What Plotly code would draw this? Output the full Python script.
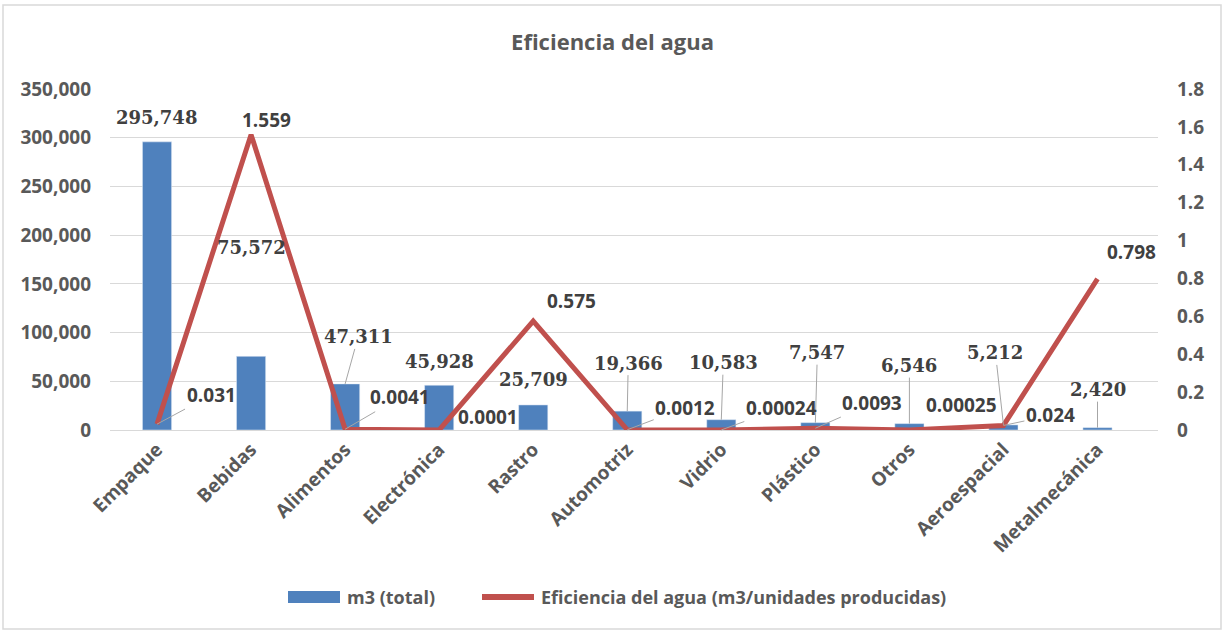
import plotly.graph_objects as go

# Sectors and their water figures
categories = ["Empaque", "Bebidas", "Alimentos", "Electrónica", "Rastro", "Automotriz",
              "Vidrio", "Plástico", "Otros", "Aeroespacial", "Metalmecánica"]
m3_total = [295748, 75572, 47311, 45928, 25709, 19366, 10583, 7547, 6546, 5212, 2420]
eficiencia = [0.031, 1.559, 0.0041, 0.0001, 0.575, 0.0012, 0.00024, 0.0093, 0.00025, 0.024, 0.798]
eficiencia_text = ["0.031", "1.559", "0.0041", "0.0001", "0.575", "0.0012", "0.00024",
                   "0.0093", "0.00025", "0.024", "0.798"]
bar_name = "m3 (total)"
line_name = "Eficiencia del agua (m3/unidades producidas)"

# Label placement (pixel offsets from the mark, and whether a leader line is drawn)
bar_off = [(-1, -24, False), (0, -109, False), (13, -47, True), (0, -24, False),
           (0, -25, False), (1, -48, True), (2, -57, True), (2, -70, True),
           (0, -58, True), (-8, -72, True), (0, -38, True)]
line_off = [(54, -29, True), (15, -15, False), (55, -32, True), (49, -13, False),
            (38, -20, False), (58, -22, True), (60, -22, True), (57, -25, True),
            (52, -25, False), (47, -10, True), (34, -27, False)]

BLUE = "#4F81BD"
RED = "#C0504D"
TXT = "#595959"
LBL = "#404040"
GRID = "#D9D9D9"
SANS = "Open Sans"

# Plot-area geometry in pixels (used to place the frame and the legend keys)
W, H = 1225, 632
L, R, T, B = 110, 1158, 89, 430


def px(x):
    return (x - L) / (R - L)


def py(y):
    return (B - y) / (B - T)


fig = go.Figure()
fig.add_trace(go.Bar(x=categories, y=m3_total, name=bar_name, marker_color=BLUE,
                     width=0.31, yaxis="y", showlegend=False))
fig.add_trace(go.Scatter(x=categories, y=eficiencia, name=line_name, mode="lines",
                         line=dict(color=RED, width=5), yaxis="y2", showlegend=False))

annotations = []
for cat, val, (ax, ay, lead) in zip(categories, m3_total, bar_off):
    annotations.append(dict(
        x=cat, y=val, xref="x", yref="y", text=f"{val:,}",
        showarrow=True, ax=ax, ay=ay, arrowhead=0, arrowwidth=1,
        arrowcolor="#A6A6A6" if lead else "rgba(0,0,0,0)",
        font=dict(family="DejaVu Serif", size=18, color=LBL, weight="bold"),
    ))
for cat, val, txt, (ax, ay, lead) in zip(categories, eficiencia, eficiencia_text, line_off):
    annotations.append(dict(
        x=cat, y=val, xref="x", yref="y2", text=txt,
        showarrow=True, ax=ax, ay=ay, arrowhead=0, arrowwidth=1,
        arrowcolor="#A6A6A6" if lead else "rgba(0,0,0,0)",
        font=dict(family=SANS, size=19, color=LBL, weight="bold"),
    ))

# Legend row
legend_font = dict(family=SANS, size=18, color=TXT, weight="bold")
annotations.append(dict(x=px(345), y=py(597), xref="paper", yref="paper", text=bar_name,
                        showarrow=False, xanchor="left", yanchor="middle", font=legend_font))
annotations.append(dict(x=px(539), y=py(597), xref="paper", yref="paper", text=line_name,
                        showarrow=False, xanchor="left", yanchor="middle", font=legend_font))

shapes = [
    dict(type="rect", xref="paper", yref="paper", x0=px(3), x1=px(1221), y0=py(629), y1=py(5),
         line=dict(color=GRID, width=1.5), fillcolor="rgba(0,0,0,0)", layer="below"),
    dict(type="rect", xref="paper", yref="paper", x0=px(288), x1=px(340), y0=py(603), y1=py(591),
         line=dict(width=0), fillcolor=BLUE),
    dict(type="line", xref="paper", yref="paper", x0=px(482), x1=px(534), y0=py(597), y1=py(597),
         line=dict(color=RED, width=6)),
]

tick_font = dict(family=SANS, size=19, color=TXT, weight="bold")
fig.update_layout(
    width=W, height=H,
    margin=dict(l=L, r=W - R, t=T, b=H - B),
    paper_bgcolor="white", plot_bgcolor="white",
    title=dict(text="Eficiencia del agua", x=0.5, xanchor="center", y=1 - 42 / H,
               yanchor="middle", font=dict(family=SANS, size=22, color=TXT, weight="bold")),
    xaxis=dict(tickangle=-45, showgrid=False, showline=True, linecolor=GRID, linewidth=1,
               ticks="", tickfont=tick_font),
    yaxis=dict(range=[0, 350000], dtick=50000, tickformat=",", showgrid=True, gridcolor=GRID,
               gridwidth=1, zeroline=False, ticks="", ticklabelstandoff=18, tickfont=tick_font),
    yaxis2=dict(range=[0, 1.8], dtick=0.2, overlaying="y", side="right", showgrid=False,
                zeroline=False, ticks="", ticklabelstandoff=18, tickfont=tick_font),
    showlegend=False,
    annotations=annotations,
    shapes=shapes,
)

fig.write_html("out.html")
